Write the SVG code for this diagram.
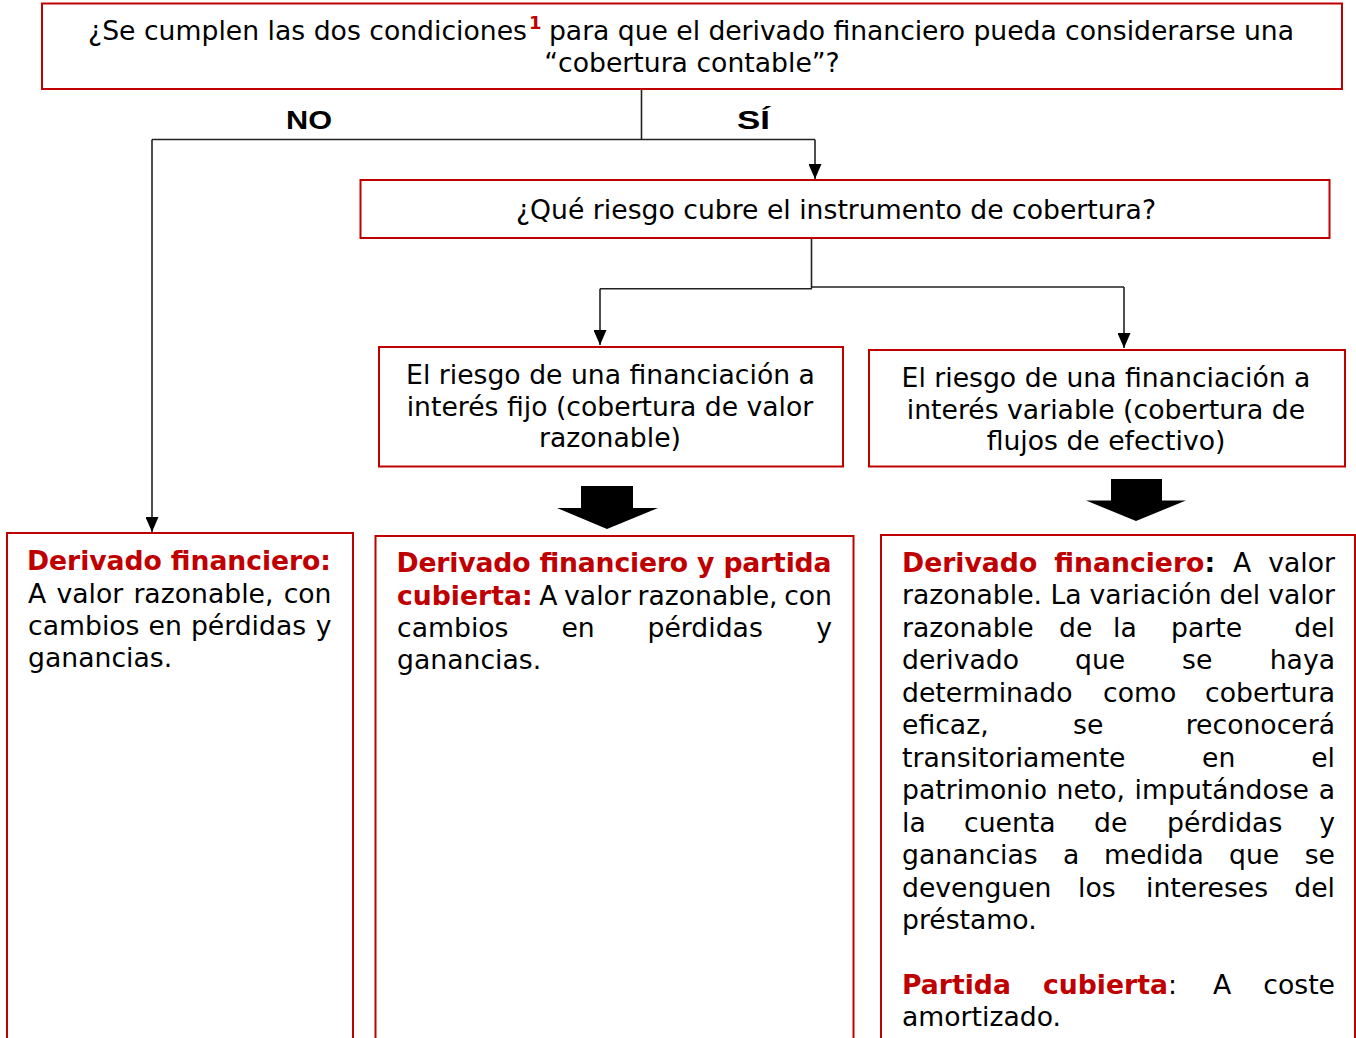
<svg xmlns="http://www.w3.org/2000/svg" width="1356" height="1038" viewBox="0 0 1356 1038">
<style>
.box{fill:#fff;stroke:#C00000;stroke-width:2}
.t{font-family:"DejaVu Sans",Verdana,sans-serif;font-size:26.67px;fill:#000}
.r{fill:#C00000;font-weight:bold}
.b{font-weight:bold}
.m{text-anchor:middle}
.e{text-anchor:end}
.lbl{font-family:"Liberation Sans",Arial,sans-serif;font-size:26px;font-weight:bold;fill:#000}
.ln{fill:none;stroke:#222;stroke-width:1.6}
.blk{fill:#000}
</style>
<defs>
<marker id="ah" markerUnits="userSpaceOnUse" markerWidth="15" markerHeight="13" viewBox="0 0 15 13" refX="15" refY="6.5" orient="auto">
<path d="M0,0 L15,6.5 L0,13 z" fill="#000"/>
</marker>
</defs>
<rect width="1356" height="1038" fill="#fff"/>

<g id="connectors">
<path class="ln" d="M641.5,90 V139.5"/>
<path class="ln" d="M152,139.5 H815"/>
<path class="ln" d="M815,139.5 V179" marker-end="url(#ah)"/>
<path class="ln" d="M152,139.5 V532" marker-end="url(#ah)"/>
<path class="ln" d="M811.5,238 V288.5"/>
<path class="ln" d="M600,288.7 H812"/>
<path class="ln" d="M812,287 H1124"/>
<path class="ln" d="M600,288.7 V345" marker-end="url(#ah)"/>
<path class="ln" d="M1124,287 V348" marker-end="url(#ah)"/>
<text class="lbl" x="286" y="128.5" textLength="46" lengthAdjust="spacingAndGlyphs">NO</text>
<text class="lbl" x="737" y="129" textLength="33" lengthAdjust="spacingAndGlyphs">SÍ</text>
<polygon class="blk" points="581,486 633,486 633,508 658,508 607,529 557,508 581,508"/>
<polygon class="blk" points="1111,479 1162,479 1162,500.5 1186,500.5 1136,521 1086,500.5 1111,500.5"/>
</g>

<g id="q1">
<rect class="box" x="42" y="3.5" width="1300" height="85.5"/>
<text class="t" x="88" y="39.5">¿Se cumplen las dos condiciones</text>
<text class="t r" x="529" y="29" style="font-size:18px">1</text>
<text class="t" x="549" y="39.5" textLength="745">para que el derivado financiero pueda considerarse una</text>
<text class="t m" x="692" y="71.5">“cobertura contable”?</text>
</g>

<g id="q2">
<rect class="box" x="360.5" y="180" width="969" height="58"/>
<text class="t m" x="836" y="219">¿Qué riesgo cubre el instrumento de cobertura?</text>
</g>

<g id="fijo">
<rect class="box" x="379" y="347" width="464" height="119.5"/>
<text class="t m" x="610.5" y="383.5">El riesgo de una financiación a</text>
<text class="t m" x="610" y="415.5">interés fijo (cobertura de valor</text>
<text class="t m" x="610" y="447">razonable)</text>
</g>

<g id="variable">
<rect class="box" x="869" y="350" width="476" height="116.5"/>
<text class="t m" x="1106" y="387">El riesgo de una financiación a</text>
<text class="t m" x="1106" y="418.5">interés variable (cobertura de</text>
<text class="t m" x="1106" y="450">flujos de efectivo)</text>
</g>

<g id="resA">
<rect class="box" x="7" y="533" width="346" height="520"/>
<text class="t r" x="27" y="569.5" textLength="304">Derivado financiero:</text>
<text class="t" y="602.5"><tspan x="28">A</tspan><tspan x="56.4">valor</tspan><tspan x="133.4">razonable,</tspan></text>
<text class="t e" x="331.5" y="602.5">con</text>
<text class="t" y="635"><tspan x="28">cambios</tspan><tspan x="148.6">en</tspan><tspan x="190.9">pérdidas</tspan></text>
<text class="t e" x="331.5" y="635">y</text>
<text class="t" x="28" y="667">ganancias.</text>
</g>

<g id="resB">
<rect class="box" x="375.5" y="536" width="478" height="520"/>
<text class="t r" x="396.5" y="572" textLength="435">Derivado financiero y partida</text>
<text class="t" y="604.5"><tspan class="r" x="397">cubierta:</tspan><tspan x="539.3">A</tspan><tspan x="564.1">valor</tspan><tspan x="637.5">razonable,</tspan></text>
<text class="t e" x="832" y="604.5">con</text>
<text class="t" y="637"><tspan x="397">cambios</tspan><tspan x="561.4">en</tspan><tspan x="647.5">pérdidas</tspan></text>
<text class="t e" x="832" y="637">y</text>
<text class="t" x="397" y="669">ganancias.</text>
</g>

<g id="resC">
<rect class="box" x="881" y="535" width="474" height="520"/>
<text class="t" y="571.7"><tspan class="r" x="902">Derivado</tspan><tspan class="r" x="1054.2">financiero</tspan><tspan class="b">:</tspan><tspan x="1233">A</tspan></text>
<text class="t e" x="1335" y="571.7">valor</text>
<text class="t" y="604.2"><tspan x="902">razonable.</tspan><tspan x="1050.5">La</tspan><tspan x="1089.5">variación</tspan><tspan x="1219.5">del</tspan></text>
<text class="t e" x="1335" y="604.2">valor</text>
<text class="t" y="636.7"><tspan x="902">razonable</tspan><tspan x="1059">de</tspan><tspan x="1113">la</tspan><tspan x="1171">parte</tspan></text>
<text class="t e" x="1335" y="636.7">del</text>
<text class="t" y="669.2"><tspan x="902">derivado</tspan><tspan x="1075">que</tspan><tspan x="1182">se</tspan></text>
<text class="t e" x="1335" y="669.2">haya</text>
<text class="t" y="701.7"><tspan x="902">determinado</tspan><tspan x="1103">como</tspan></text>
<text class="t e" x="1335" y="701.7">cobertura</text>
<text class="t" y="734.2"><tspan x="902">eficaz,</tspan><tspan x="1073">se</tspan></text>
<text class="t e" x="1335" y="734.2">reconocerá</text>
<text class="t" y="766.7"><tspan x="902">transitoriamente</tspan><tspan x="1202">en</tspan></text>
<text class="t e" x="1335" y="766.7">el</text>
<text class="t" y="799.2"><tspan x="902">patrimonio</tspan><tspan x="1056.5">neto,</tspan><tspan x="1134.6">imputándose</tspan></text>
<text class="t e" x="1335" y="799.2">a</text>
<text class="t" y="831.7"><tspan x="902">la</tspan><tspan x="964">cuenta</tspan><tspan x="1094">de</tspan><tspan x="1167">pérdidas</tspan></text>
<text class="t e" x="1335" y="831.7">y</text>
<text class="t" y="864.2"><tspan x="902">ganancias</tspan><tspan x="1063">a</tspan><tspan x="1104">medida</tspan><tspan x="1229">que</tspan></text>
<text class="t e" x="1335" y="864.2">se</text>
<text class="t" y="896.7"><tspan x="902">devenguen</tspan><tspan x="1078">los</tspan><tspan x="1146">intereses</tspan></text>
<text class="t e" x="1335" y="896.7">del</text>
<text class="t" x="902" y="929.2">préstamo.</text>
<text class="t" y="993.5"><tspan class="r" x="902">Partida</tspan><tspan class="r" x="1043">cubierta</tspan><tspan>:</tspan><tspan x="1213">A</tspan></text>
<text class="t e" x="1335" y="993.5">coste</text>
<text class="t" x="902" y="1026">amortizado.</text>
</g>
</svg>
